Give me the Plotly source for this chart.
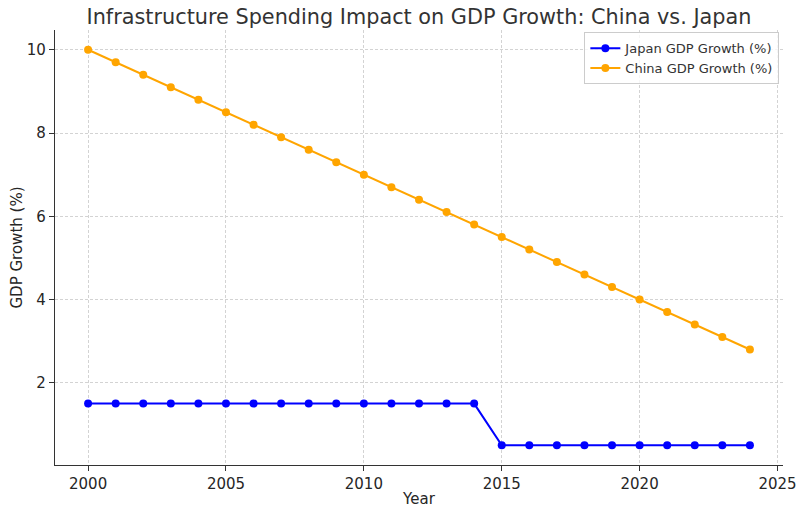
import plotly.graph_objects as go

years = list(range(2000, 2025))
japan_gdp = [1.5, 1.5, 1.5, 1.5, 1.5, 1.5, 1.5, 1.5, 1.5, 1.5, 1.5, 1.5, 1.5, 1.5, 1.5,
             0.5, 0.5, 0.5, 0.5, 0.5, 0.5, 0.5, 0.5, 0.5, 0.5]
china_gdp = [10.0, 9.7, 9.4, 9.1, 8.8, 8.5, 8.2, 7.9, 7.6, 7.3, 7.0, 6.7, 6.4, 6.1, 5.8,
             5.5, 5.2, 4.9, 4.6, 4.3, 4.0, 3.7, 3.4, 3.1, 2.8]
x_ticks = [2000, 2005, 2010, 2015, 2020, 2025]
y_ticks = [2, 4, 6, 8, 10]

fig = go.Figure()
fig.add_trace(go.Scatter(x=years, y=japan_gdp, mode="lines+markers", name="Japan GDP Growth (%)",
                         line=dict(color="#0000ff", width=2), marker=dict(color="#0000ff", size=8)))
fig.add_trace(go.Scatter(x=years, y=china_gdp, mode="lines+markers", name="China GDP Growth (%)",
                         line=dict(color="#ffa500", width=2), marker=dict(color="#ffa500", size=8)))

axis_common = dict(showline=True, linecolor="#333333", linewidth=1.3, ticks="outside", ticklen=5,
                   tickcolor="#333333", showgrid=True, gridcolor="#d3d3d3", griddash="3px,2px",
                   gridwidth=0.8, zeroline=False, mirror=False, automargin=False,
                   tickfont=dict(family="DejaVu Sans", size=15, color="#262626"))

fig.update_layout(
    width=808, height=513,
    margin=dict(l=55, r=25, t=30, b=48),
    plot_bgcolor="white", paper_bgcolor="white",
    font=dict(family="DejaVu Sans", color="#262626"),
    title=dict(text="Infrastructure Spending Impact on GDP Growth: China vs. Japan",
               x=0.5, xref="paper", xanchor="center", y=0.968, yanchor="middle",
               font=dict(size=20.8, color="#333333")),
    xaxis=dict(range=[1998.8, 2025.2], tickvals=x_ticks,
               title=dict(text="Year", font=dict(size=15), standoff=1), **axis_common),
    yaxis=dict(range=[0.025, 10.475], tickvals=y_ticks,
               title=dict(text="GDP Growth (%)", font=dict(size=15), standoff=0), **axis_common),
    legend=dict(x=0.995, y=0.995, xanchor="right", yanchor="top",
                bgcolor="rgba(255,255,255,0.8)", bordercolor="#cccccc", borderwidth=1,
                font=dict(size=13, color="#333333"), tracegroupgap=0),
    showlegend=True,
)

fig.write_html("out.html")
